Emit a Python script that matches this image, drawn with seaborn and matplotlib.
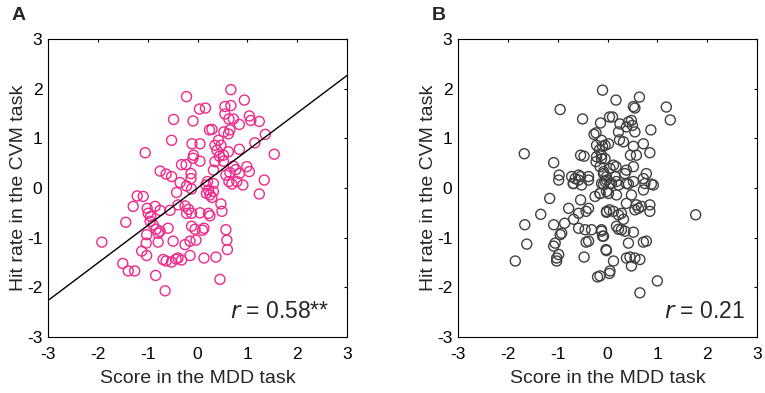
import matplotlib
matplotlib.use("Agg")
import matplotlib.pyplot as plt
import seaborn as sns
import numpy as np

sns.set_theme()
sns.set_style("white")
plt.rcParams["font.family"] = ["Liberation Sans", "DejaVu Sans"]
plt.rcParams["axes.unicode_minus"] = False

# Panel A: MDD score vs CVM hit rate (pink)
mdd_a = [-0.22, 0.04, 0.16, -0.48, -0.09, 0.24, -0.52, -0.11, 0.05, -1.05, -0.08, -0.09, 0.05,
         -0.32, -0.23, -0.75, -0.63, -0.52, -0.13, -0.13, -0.35, -0.22,
         0.67, 0.94, 0.55, 0.67, 0.55, 0.63, 0.72, 0.84, 1.04, 1.07, 1.24, 0.29, 0.65, 0.53,
         0.62, 1.36, 1.15, 0.42, 0.35, 0.47, 0.39, 0.84, 0.62, 0.52, 0.44, 1.54, 0.35, 0.52,
         0.32, 0.72, 0.77, 0.65, 0.57, 0.99, 1.04, 0.84, 1.34, 0.20, 0.32, 0.63, 0.69, 0.91,
         0.17, 0.79, 1.24, 0.22, 0.32, 0.25, 0.29, 0.47, 0.49, 0.05, 0.22, 0.25, 0.13, 0.10,
         0.57, 0.59, 0.60, 0.13, 0.37, 0.45,
         -0.42, -0.12, 0.18, -1.21, -1.09, -1.29, -1.01, -0.85, -0.75, -0.55, -0.99, -0.94,
         -0.39, -0.25, -0.18, -0.22, -0.12, -1.44, -0.95, -0.89, -0.83, -0.75, -0.79, -0.59,
         -0.12, -0.05, -1.02, -1.03, -0.79, -0.49, -1.92, -0.25, -0.15, -0.03, -1.12, -1.02,
         -0.69, -0.63, -0.52, -0.43, -0.39, -0.32, -0.15, -1.50, -1.39, -1.26, -0.84, -0.65]
cvm_a = [1.84, 1.59, 1.61, 1.38, 1.35, 1.17, 0.96, 0.89, 0.89, 0.71, 0.66, 0.60, 0.54,
         0.47, 0.47, 0.34, 0.28, 0.23, 0.29, 0.19, 0.11, 0.04,
         1.98, 1.77, 1.64, 1.66, 1.49, 1.39, 1.39, 1.28, 1.45, 1.36, 1.34, 1.18, 1.17, 1.13,
         1.09, 1.08, 0.91, 0.96, 0.86, 0.86, 0.76, 0.78, 0.73, 0.66, 0.64, 0.68, 0.53, 0.54,
         0.36, 0.44, 0.37, 0.31, 0.26, 0.43, 0.33, 0.29, 0.16, 0.13, 0.09, 0.13, 0.08, 0.06,
         0.06, 0.13, -0.12, -0.04, -0.07, -0.14, -0.19, -0.32, -0.47, -0.50, -0.51, -0.56, -0.81, -0.85,
         -0.84, -1.05, -1.24, -1.41, -1.39, -1.84,
         -0.09, -0.02, -0.11, -0.16, -0.17, -0.37, -0.41, -0.37, -0.45, -0.45, -0.51, -0.57,
         -0.34, -0.36, -0.43, -0.51, -0.51, -0.69, -0.67, -0.74, -0.83, -0.87, -0.91, -0.81,
         -0.77, -0.83, -0.94, -1.11, -1.09, -1.07, -1.09, -1.14, -1.07, -1.05, -1.27, -1.36,
         -1.44, -1.47, -1.49, -1.43, -1.41, -1.45, -1.36, -1.52, -1.67, -1.67, -1.76, -2.07]

# regression line drawn in panel A
fit_slope_a = 0.755
fit_intercept_a = 0.0

# Panel B: MDD score vs CVM hit rate (grey)
mdd_b = [-0.10, -0.95, -0.50, -0.14, 0.04, -0.27, -0.23, -1.67, -0.54, -0.47, -0.22, -0.10,
         -0.16, -0.22, -0.12, -0.23, -1.08, -0.97, -0.72, -0.65, -0.58, -0.54, -0.38, -0.69,
         -0.15, -0.08, -0.08,
         0.17, 0.64, 0.52, 0.55, 1.18, 1.26, 0.10, 0.25, 0.42, 0.48, 0.50, 0.38, 0.55, 0.22,
         0.24, 0.32, 0.87, -0.05, 0.02, -0.12, 0.52, 0.72, 0.46, 0.58, 0.85, -0.12, -0.05,
         0.12, 0.17, 0.05, 0.52, 0.38, 0.35, 0.78, 0.72, -0.08, -0.02, 0.15, 0.18, 0.08,
         0.42, 0.88,
         -0.05, 0.05, 0.22, 0.38, 0.52, 0.75, 0.92, -0.15, 0.02, 0.18, 0.48, 0.72, 0.38,
         0.58, 0.62, 0.68, 0.85, 0.85, 0.55, -0.02, 0.12, 0.22, 0.28, 0.32, 1.77, 0.18, 0.22,
         0.28, 0.35, 0.52, -0.12, -0.08, 0.42, 0.72, 0.78, -0.02, 0.38, 0.45, 0.55, 0.65,
         0.48, 0.12, 0.05, 0.04, -0.15, 1.00, 0.65,
         -0.98, -0.68, -0.58, -0.52, -0.38, -0.12, -0.02, -1.16, -1.34, -1.66, -1.62, -1.85,
         -0.78, -0.54, -0.58, -0.43, -0.38, -0.25, -0.15, -0.02, -0.02, 0.04, -0.86, -0.68,
         -1.08, -0.95, -0.92, -1.05, -1.08, -0.98, -1.02, -1.02, -0.58, -0.45, -0.32, -0.12,
         -0.10, -0.38, -0.43, -0.47, -0.03, -0.20]
cvm_b = [1.97, 1.58, 1.39, 1.31, 1.43, 1.08, 1.11, 0.69, 0.66, 0.64, 0.86, 0.84,
         0.77, 0.63, 0.59, 0.53, 0.51, 0.26, 0.23, 0.19, 0.26, 0.23, 0.23, 0.09,
         0.43, 0.33, 0.08,
         1.77, 1.83, 1.64, 1.61, 1.63, 1.37, 1.43, 1.29, 1.33, 1.36, 1.26, 1.23, 1.13, 1.13,
         0.97, 0.93, 1.17, 0.86, 0.89, 0.96, 0.84, 0.89, 0.66, 0.66, 0.71, 0.66, 0.59,
         0.46, 0.43, 0.39, 0.43, 0.36, 0.29, 0.29, 0.19, 0.29, 0.23, 0.23, 0.13, 0.09,
         0.08, 0.08,
         0.13, 0.09, 0.06, 0.09, 0.13, 0.09, 0.06, -0.11, -0.11, -0.14, -0.14, -0.04, -0.31,
         -0.34, -0.41, -0.37, -0.34, -0.47, -0.44, -0.47, -0.47, -0.54, -0.51, -0.63, -0.54, -0.77, -0.83,
         -0.84, -0.87, -0.89, -0.87, -0.97, -1.11, -1.09, -1.07, -1.26, -1.41, -1.39, -1.41, -1.44,
         -1.57, -1.47, -1.67, -1.72, -1.77, -1.87, -2.11,
         0.16, 0.09, 0.16, 0.06, 0.16, 0.09, 0.16, -0.21, -0.53, -0.74, -1.13, -1.47,
         -0.41, -0.24, -0.51, -0.47, -0.41, -0.17, -0.11, -0.07, -0.49, -0.44, -0.71, -0.63,
         -0.74, -0.94, -0.91, -1.11, -1.17, -1.34, -1.41, -1.47, -0.81, -0.84, -0.84, -0.84,
         -0.97, -1.07, -1.09, -1.39, -1.24, -1.79]

ticks = [-3, -2, -1, 0, 1, 2, 3]

fig = plt.figure(figsize=(7.65, 3.93), dpi=100)
ax_a = fig.add_axes([48 / 765, 1 - 337 / 393, 299 / 765, 298 / 393])
ax_b = fig.add_axes([458 / 765, 1 - 337 / 393, 299 / 765, 298 / 393])


def style_axis(ax):
    ax.set_xlim(-3, 3)
    ax.set_ylim(-3, 3)
    ax.set_xticks(ticks)
    ax.set_yticks(ticks)
    ax.tick_params(direction="in", length=2.5, width=0.8, top=True, right=True,
                   labelsize=12.5, colors="black")
    ax.tick_params(axis="x", pad=7)
    ax.tick_params(axis="y", pad=4)
    for sp in ax.spines.values():
        sp.set_visible(True)
        sp.set_color("black")
        sp.set_linewidth(0.8)
    ax.set_xlabel("Score in the MDD task", fontsize=14, labelpad=6)
    ax.set_ylabel("Hit rate in the CVM task", fontsize=14, labelpad=0)
    ax.grid(False)


sns.scatterplot(x=mdd_a, y=cvm_a, ax=ax_a, marker="o", s=52, facecolor="none",
                edgecolor="#ee2a8a", linewidth=1.0)
line_x = np.array([-3, 3])
sns.lineplot(x=line_x, y=fit_slope_a * line_x + fit_intercept_a, ax=ax_a,
             color="black", linewidth=1.0)
style_axis(ax_a)
ax_a.text(2.65, -2.48, r"$\it{r}$ = 0.58**", fontsize=16.5, ha="right", va="center")

sns.scatterplot(x=mdd_b, y=cvm_b, ax=ax_b, marker="o", s=52, facecolor="none",
                edgecolor="#404040", linewidth=1.0)
style_axis(ax_b)
ax_b.text(2.75, -2.48, r"$\it{r}$ = 0.21", fontsize=16.5, ha="right", va="center")

fig.text(12 / 765, 1 - 15 / 393, "A", fontsize=14, fontweight="bold", va="center")
fig.text(432 / 765, 1 - 15 / 393, "B", fontsize=14, fontweight="bold", va="center")

fig.savefig("out.png", dpi=100)
